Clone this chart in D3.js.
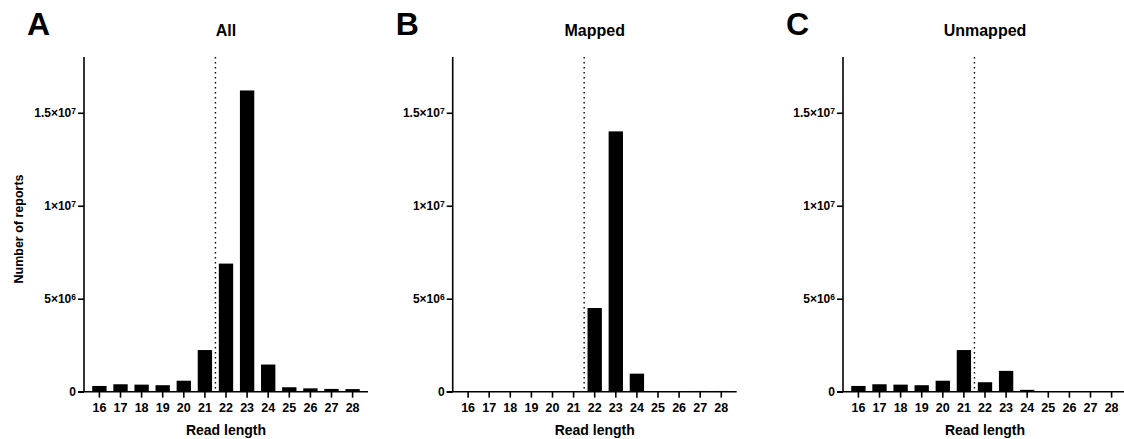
<!DOCTYPE html>
<html>
<head>
<meta charset="utf-8">
<script src="https://cdn.jsdelivr.net/npm/d3@7"></script>
<style>
  body { margin: 0; background: #fff; }
  text { font-family: "Liberation Sans", Arial, sans-serif; font-weight: bold; fill: #000; }
</style>
</head>
<body>
<div id="chart"></div>
<script>
const readLengths = [16, 17, 18, 19, 20, 21, 22, 23, 24, 25, 26, 27, 28];
const allReads = [0.31e6, 0.40e6, 0.38e6, 0.35e6, 0.59e6, 2.24e6, 6.89e6, 16.2e6, 1.46e6, 0.24e6, 0.18e6, 0.15e6, 0.14e6];
const mappedReads = [0, 0, 0, 0, 0, 0, 4.5e6, 14.0e6, 0.97e6, 0.02e6, 0.02e6, 0.04e6, 0.04e6];
const unmappedReads = [0.31e6, 0.40e6, 0.38e6, 0.35e6, 0.59e6, 2.24e6, 0.51e6, 1.12e6, 0.1e6, 0.01e6, 0.01e6, 0.01e6, 0.01e6];
const yTicks = [0, 5e6, 1e7, 1.5e7];
const yTickLabels = [['0', ''], ['5×10', '6'], ['1×10', '7'], ['1.5×10', '7']];
const panelLetters = ['A', 'B', 'C'];
const panelTitles = ['All', 'Mapped', 'Unmapped'];
const cutoff = 21.5;

const svgWidth = 1124, svgHeight = 439;
const svg = d3.select('#chart').append('svg')
    .attr('width', svgWidth)
    .attr('height', svgHeight);

const panelX = [84, 452.7, 843];
const plotWidth = 284;
const yTop = 57, yBottom = 391.7;

const yScale = d3.scaleLinear()
    .domain([0, 1.8e7])
    .range([yBottom, yTop]);

const series = [allReads, mappedReads, unmappedReads];

series.forEach((values, i) => {
    const x0 = panelX[i];
    const g = svg.append('g');

    const xScale = d3.scaleBand()
        .domain(readLengths)
        .range([x0, x0 + plotWidth])
        .paddingInner(0.32)
        .paddingOuter(0.39);

    const step = xScale.step();
    const center = v => xScale(v) + xScale.bandwidth() / 2;

    // bars
    g.selectAll('rect')
        .data(readLengths)
        .join('rect')
        .attr('x', d => xScale(d))
        .attr('width', xScale.bandwidth())
        .attr('y', (d, j) => yScale(values[j]))
        .attr('height', (d, j) => yBottom - yScale(values[j]))
        .attr('fill', '#000');

    // dotted cutoff line
    const cx = center(21) + (cutoff - 21) * step;
    g.append('line')
        .attr('x1', cx).attr('x2', cx)
        .attr('y1', yTop).attr('y2', yBottom)
        .attr('stroke', '#000')
        .attr('stroke-width', 1.4)
        .attr('stroke-dasharray', '1.4,3.6');

    // y axis
    const yAxis = g.append('g')
        .attr('transform', `translate(${x0},0)`)
        .call(d3.axisLeft(yScale).tickValues(yTicks).tickSize(6).tickFormat(''));
    yAxis.select('.domain').attr('d', `M0,${yTop}V${yBottom}`).attr('stroke-width', 1.6);
    yAxis.selectAll('.tick line').attr('stroke-width', 1.6);
    yAxis.selectAll('.tick').each(function (d, k) {
        const t = d3.select(this).append('text')
            .attr('x', -8)
            .attr('dy', '0.35em')
            .attr('text-anchor', 'end')
            .attr('font-size', 12);
        const lbl = yTickLabels[k];
        t.append('tspan').text(lbl[0]);
        if (lbl[1]) {
            t.append('tspan').attr('dy', '-0.45em').attr('font-size', 8.5).text(lbl[1]);
        }
    });

    // x axis
    const xAxis = g.append('g')
        .attr('transform', `translate(0,${yBottom})`)
        .call(d3.axisBottom(xScale).tickSize(6).tickPadding(5));
    xAxis.select('.domain').attr('d', `M${x0 - 6},0H${x0 + plotWidth}`).attr('stroke-width', 1.6);
    xAxis.selectAll('.tick line').attr('stroke-width', 1.6);
    xAxis.selectAll('.tick text')
        .attr('font-size', 12.5)
        .attr('font-family', '"Liberation Sans", Arial, sans-serif')
        .attr('font-weight', 'bold');

    g.append('text')
        .attr('x', x0 + plotWidth / 2)
        .attr('y', 435)
        .attr('text-anchor', 'middle')
        .attr('font-size', 14)
        .text('Read length');

    // title and letter
    g.append('text')
        .attr('x', x0 + plotWidth / 2)
        .attr('y', 36)
        .attr('text-anchor', 'middle')
        .attr('font-size', 16)
        .text(panelTitles[i]);

    g.append('text')
        .attr('x', x0 - 57)
        .attr('y', 35)
        .attr('font-size', 32)
        .text(panelLetters[i]);
});

svg.append('text')
    .attr('transform', 'translate(23,229) rotate(-90)')
    .attr('text-anchor', 'middle')
    .attr('font-size', 12.5)
    .text('Number of reports');
</script>
</body>
</html>
